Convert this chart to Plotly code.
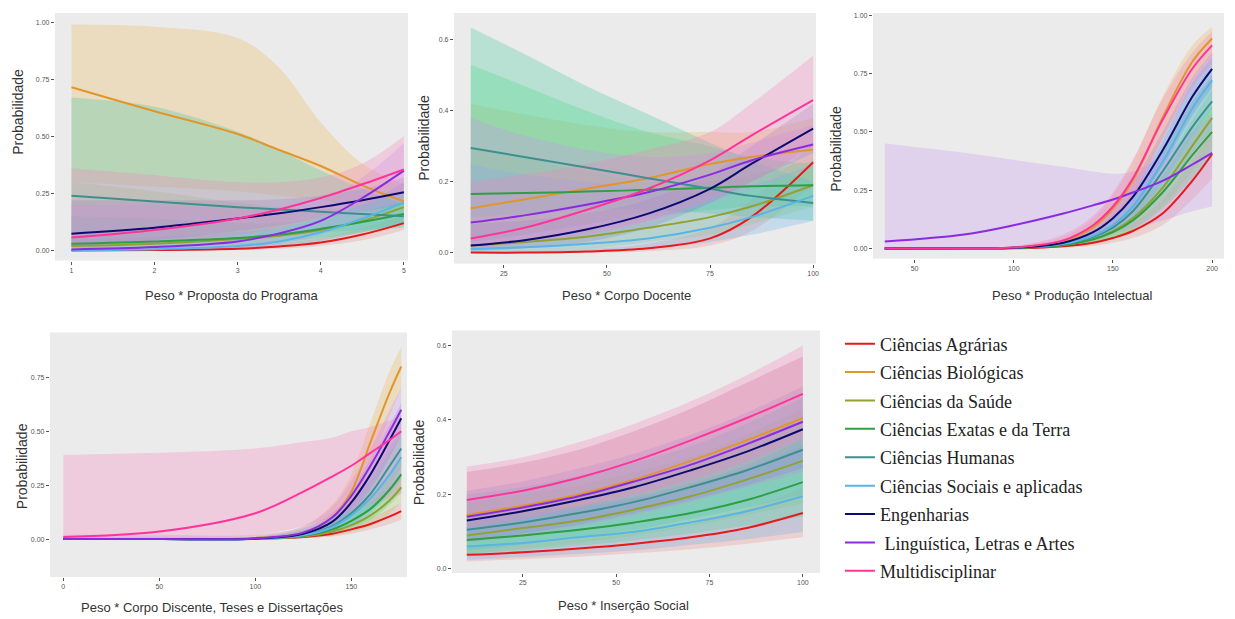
import plotly.graph_objects as go

CATEGORIES = ["Ciências Agrárias", "Ciências Biológicas", "Ciências da Saúde",
              "Ciências Exatas e da Terra", "Ciências Humanas", "Ciências Sociais e aplicadas",
              "Engenharias", " Linguística, Letras e Artes", "Multidisciplinar"]
LINE_COLORS = ["#e41a1c", "#e0962a", "#93a033", "#2f9e44", "#3f8f8f", "#5ab4e5",
               "#0b0b70", "#8a2be2", "#ff3399"]
FILL_COLORS = ["rgba(240,110,110,0.22)", "rgba(235,190,110,0.35)", "rgba(170,200,90,0.28)",
               "rgba(90,220,130,0.35)", "rgba(90,205,170,0.35)", "rgba(110,180,235,0.3)",
               "rgba(110,110,200,0.22)", "rgba(200,150,240,0.3)", "rgba(245,130,190,0.3)"]

# ---------- Panel 1: Proposta do Programa ----------
P1_X = [1, 2, 3, 3.5, 4, 4.5, 5]
P1_MEAN = {
    "Ciências Agrárias": [0.0, 0.002, 0.008, 0.018, 0.035, 0.07, 0.12],
    "Ciências Biológicas": [0.715, 0.61, 0.51, 0.44, 0.37, 0.285, 0.215],
    "Ciências da Saúde": [0.02, 0.03, 0.05, 0.065, 0.09, 0.13, 0.19],
    "Ciências Exatas e da Terra": [0.03, 0.04, 0.055, 0.07, 0.095, 0.125, 0.16],
    "Ciências Humanas": [0.24, 0.215, 0.19, 0.18, 0.17, 0.16, 0.15],
    "Ciências Sociais e aplicadas": [0.002, 0.006, 0.02, 0.04, 0.08, 0.14, 0.21],
    "Engenharias": [0.074, 0.1, 0.14, 0.163, 0.19, 0.22, 0.255],
    " Linguística, Letras e Artes": [0.005, 0.015, 0.04, 0.075, 0.13, 0.23, 0.35],
    "Multidisciplinar": [0.057, 0.09, 0.14, 0.18, 0.23, 0.29, 0.355],
}
P1_LO = {
    "Ciências Agrárias": [0, 0, 0.003, 0.008, 0.02, 0.045, 0.09],
    "Ciências Biológicas": [0.3, 0.28, 0.26, 0.24, 0.22, 0.18, 0.14],
    "Ciências da Saúde": [0.0, 0.005, 0.015, 0.025, 0.045, 0.08, 0.12],
    "Ciências Exatas e da Terra": [0.005, 0.01, 0.025, 0.035, 0.055, 0.08, 0.11],
    "Ciências Humanas": [0.02, 0.04, 0.06, 0.07, 0.08, 0.09, 0.1],
    "Ciências Sociais e aplicadas": [0, 0, 0.004, 0.015, 0.04, 0.08, 0.12],
    "Engenharias": [0.02, 0.045, 0.085, 0.11, 0.14, 0.17, 0.2],
    " Linguística, Letras e Artes": [0, 0, 0.01, 0.03, 0.07, 0.14, 0.22],
    "Multidisciplinar": [0.01, 0.03, 0.07, 0.1, 0.15, 0.2, 0.25],
}
P1_HI = {
    "Ciências Agrárias": [0.005, 0.008, 0.018, 0.032, 0.055, 0.1, 0.155],
    "Ciências Biológicas": [0.99, 0.98, 0.93, 0.8, 0.56, 0.38, 0.29],
    "Ciências da Saúde": [0.3, 0.26, 0.21, 0.19, 0.18, 0.2, 0.26],
    "Ciências Exatas e da Terra": [0.15, 0.14, 0.12, 0.12, 0.14, 0.17, 0.22],
    "Ciências Humanas": [0.67, 0.63, 0.52, 0.44, 0.35, 0.27, 0.2],
    "Ciências Sociais e aplicadas": [0.05, 0.06, 0.08, 0.1, 0.14, 0.2, 0.3],
    "Engenharias": [0.22, 0.22, 0.22, 0.225, 0.24, 0.27, 0.32],
    " Linguística, Letras e Artes": [0.2, 0.2, 0.18, 0.19, 0.22, 0.32, 0.47],
    "Multidisciplinar": [0.36, 0.33, 0.3, 0.3, 0.32, 0.38, 0.5],
}

# ---------- Panel 2: Corpo Docente ----------
P2_X = [17, 30, 45, 60, 75, 85, 100]
P2_MEAN = {
    "Ciências Agrárias": [0.0, 0.0, 0.003, 0.012, 0.04, 0.1, 0.255],
    "Ciências Biológicas": [0.125, 0.15, 0.18, 0.21, 0.25, 0.27, 0.29],
    "Ciências da Saúde": [0.02, 0.03, 0.045, 0.07, 0.1, 0.13, 0.19],
    "Ciências Exatas e da Terra": [0.165, 0.168, 0.172, 0.177, 0.183, 0.187, 0.19],
    "Ciências Humanas": [0.295, 0.27, 0.24, 0.21, 0.18, 0.16, 0.14],
    "Ciências Sociais e aplicadas": [0.01, 0.015, 0.025, 0.04, 0.07, 0.1, 0.16],
    "Engenharias": [0.02, 0.035, 0.065, 0.11, 0.18, 0.25, 0.35],
    " Linguística, Letras e Artes": [0.085, 0.105, 0.135, 0.17, 0.22, 0.26, 0.305],
    "Multidisciplinar": [0.04, 0.07, 0.12, 0.18, 0.26, 0.33, 0.43],
}
P2_LO = {
    "Ciências Agrárias": [0, 0, 0, 0.004, 0.02, 0.06, 0.19],
    "Ciências Biológicas": [0.03, 0.05, 0.08, 0.12, 0.16, 0.19, 0.2],
    "Ciências da Saúde": [0, 0.005, 0.01, 0.03, 0.05, 0.08, 0.13],
    "Ciências Exatas e da Terra": [0.03, 0.05, 0.08, 0.1, 0.12, 0.13, 0.13],
    "Ciências Humanas": [0.1, 0.11, 0.12, 0.12, 0.11, 0.1, 0.09],
    "Ciências Sociais e aplicadas": [0, 0, 0.005, 0.01, 0.03, 0.05, 0.09],
    "Engenharias": [0.005, 0.012, 0.03, 0.07, 0.14, 0.2, 0.28],
    " Linguística, Letras e Artes": [0.01, 0.03, 0.06, 0.09, 0.14, 0.18, 0.24],
    "Multidisciplinar": [0.01, 0.025, 0.05, 0.09, 0.15, 0.2, 0.3],
}
P2_HI = {
    "Ciências Agrárias": [0.004, 0.005, 0.01, 0.025, 0.07, 0.15, 0.31],
    "Ciências Biológicas": [0.42, 0.39, 0.36, 0.34, 0.34, 0.34, 0.38],
    "Ciências da Saúde": [0.3, 0.27, 0.23, 0.2, 0.2, 0.22, 0.26],
    "Ciências Exatas e da Terra": [0.53, 0.47, 0.4, 0.34, 0.3, 0.27, 0.25],
    "Ciências Humanas": [0.635, 0.56, 0.47, 0.39, 0.31, 0.26, 0.2],
    "Ciências Sociais e aplicadas": [0.25, 0.22, 0.2, 0.18, 0.17, 0.19, 0.25],
    "Engenharias": [0.08, 0.09, 0.11, 0.15, 0.22, 0.3, 0.42],
    " Linguística, Letras e Artes": [0.38, 0.33, 0.29, 0.27, 0.28, 0.31, 0.36],
    "Multidisciplinar": [0.2, 0.22, 0.25, 0.29, 0.34, 0.42, 0.555],
}

# ---------- Panel 3: Produção Intelectual ----------
P3_X = [35, 75, 100, 125, 140, 150, 160, 175, 190, 200]
P3_MEAN = {
    "Ciências Agrárias": [0, 0, 0.001, 0.01, 0.025, 0.045, 0.075, 0.15, 0.29, 0.405],
    "Ciências Biológicas": [0, 0.001, 0.004, 0.03, 0.09, 0.17, 0.29, 0.56, 0.8, 0.9],
    "Ciências da Saúde": [0, 0.001, 0.002, 0.015, 0.04, 0.075, 0.13, 0.26, 0.44, 0.56],
    "Ciências Exatas e da Terra": [0, 0.001, 0.002, 0.015, 0.04, 0.07, 0.12, 0.24, 0.4, 0.5],
    "Ciências Humanas": [0, 0.001, 0.003, 0.02, 0.05, 0.09, 0.16, 0.33, 0.52, 0.63],
    "Ciências Sociais e aplicadas": [0, 0.001, 0.003, 0.02, 0.055, 0.1, 0.18, 0.37, 0.6, 0.72],
    "Engenharias": [0, 0.001, 0.003, 0.025, 0.07, 0.13, 0.22, 0.42, 0.65, 0.77],
    " Linguística, Letras e Artes": [0.03, 0.06, 0.1, 0.15, 0.185, 0.21, 0.24, 0.29, 0.36, 0.41],
    "Multidisciplinar": [0, 0.001, 0.004, 0.035, 0.1, 0.18, 0.3, 0.55, 0.77, 0.87],
}
P3_LO = {
    "Ciências Agrárias": [0, 0, 0, 0.004, 0.012, 0.025, 0.045, 0.1, 0.21, 0.3],
    "Ciências Biológicas": [0, 0, 0.001, 0.015, 0.06, 0.12, 0.22, 0.47, 0.72, 0.83],
    "Ciências da Saúde": [0, 0, 0, 0.007, 0.02, 0.045, 0.085, 0.18, 0.33, 0.43],
    "Ciências Exatas e da Terra": [0, 0, 0, 0.007, 0.022, 0.045, 0.08, 0.17, 0.3, 0.39],
    "Ciências Humanas": [0, 0, 0.001, 0.01, 0.03, 0.06, 0.11, 0.24, 0.41, 0.51],
    "Ciências Sociais e aplicadas": [0, 0, 0.001, 0.01, 0.035, 0.07, 0.13, 0.28, 0.48, 0.6],
    "Engenharias": [0, 0, 0.001, 0.015, 0.05, 0.1, 0.17, 0.35, 0.57, 0.69],
    " Linguística, Letras e Artes": [0.002, 0.005, 0.01, 0.025, 0.045, 0.065, 0.085, 0.12, 0.16, 0.18],
    "Multidisciplinar": [0, 0, 0.001, 0.02, 0.07, 0.13, 0.23, 0.47, 0.69, 0.79],
}
P3_HI = {
    "Ciências Agrárias": [0.003, 0.003, 0.004, 0.018, 0.04, 0.07, 0.11, 0.21, 0.38, 0.5],
    "Ciências Biológicas": [0.005, 0.005, 0.01, 0.05, 0.13, 0.23, 0.37, 0.65, 0.87, 0.95],
    "Ciências da Saúde": [0.005, 0.005, 0.006, 0.027, 0.065, 0.11, 0.18, 0.34, 0.55, 0.68],
    "Ciências Exatas e da Terra": [0.005, 0.005, 0.006, 0.025, 0.06, 0.1, 0.16, 0.31, 0.5, 0.61],
    "Ciências Humanas": [0.005, 0.005, 0.008, 0.035, 0.075, 0.13, 0.22, 0.42, 0.63, 0.74],
    "Ciências Sociais e aplicadas": [0.005, 0.005, 0.008, 0.035, 0.08, 0.14, 0.24, 0.46, 0.71, 0.82],
    "Engenharias": [0.005, 0.005, 0.008, 0.04, 0.1, 0.17, 0.28, 0.5, 0.73, 0.84],
    " Linguística, Letras e Artes": [0.45, 0.41, 0.38, 0.35, 0.33, 0.32, 0.33, 0.4, 0.5, 0.58],
    "Multidisciplinar": [0.005, 0.005, 0.01, 0.06, 0.14, 0.24, 0.38, 0.64, 0.84, 0.93],
}

# ---------- Panel 4: Corpo Discente, Teses e Dissertações ----------
P4_X = [0, 50, 100, 125, 140, 150, 160, 170, 176]
P4_MEAN = {
    "Ciências Agrárias": [0, 0, 0.002, 0.01, 0.025, 0.045, 0.07, 0.105, 0.13],
    "Ciências Biológicas": [0, 0, 0.005, 0.03, 0.1, 0.22, 0.45, 0.68, 0.8],
    "Ciências da Saúde": [0, 0, 0.002, 0.012, 0.035, 0.065, 0.11, 0.18, 0.24],
    "Ciências Exatas e da Terra": [0, 0, 0.002, 0.015, 0.045, 0.085, 0.14, 0.23, 0.3],
    "Ciências Humanas": [0, 0, 0.002, 0.02, 0.06, 0.12, 0.21, 0.34, 0.42],
    "Ciências Sociais e aplicadas": [0, 0, 0.002, 0.018, 0.055, 0.11, 0.19, 0.3, 0.38],
    "Engenharias": [0, 0, 0.002, 0.025, 0.08, 0.17, 0.3, 0.46, 0.56],
    " Linguística, Letras e Artes": [0, 0, 0.003, 0.03, 0.1, 0.2, 0.34, 0.5, 0.6],
    "Multidisciplinar": [0.01, 0.035, 0.12, 0.22, 0.29, 0.34, 0.4, 0.46, 0.5],
}
P4_LO = {
    "Ciências Agrárias": [0, 0, 0, 0.004, 0.012, 0.025, 0.045, 0.07, 0.09],
    "Ciências Biológicas": [0, 0, 0.001, 0.01, 0.05, 0.14, 0.35, 0.57, 0.7],
    "Ciências da Saúde": [0, 0, 0, 0.004, 0.015, 0.035, 0.06, 0.12, 0.17],
    "Ciências Exatas e da Terra": [0, 0, 0, 0.005, 0.02, 0.05, 0.09, 0.16, 0.22],
    "Ciências Humanas": [0, 0, 0, 0.008, 0.03, 0.07, 0.14, 0.25, 0.33],
    "Ciências Sociais e aplicadas": [0, 0, 0, 0.006, 0.03, 0.06, 0.12, 0.21, 0.28],
    "Engenharias": [0, 0, 0, 0.01, 0.05, 0.12, 0.23, 0.38, 0.48],
    " Linguística, Letras e Artes": [0, 0, 0, 0.01, 0.06, 0.14, 0.26, 0.4, 0.49],
    "Multidisciplinar": [0, 0, 0.02, 0.06, 0.1, 0.13, 0.16, 0.19, 0.21],
}
P4_HI = {
    "Ciências Agrárias": [0.003, 0.003, 0.006, 0.02, 0.04, 0.07, 0.1, 0.14, 0.17],
    "Ciências Biológicas": [0.01, 0.01, 0.02, 0.06, 0.16, 0.3, 0.54, 0.78, 0.89],
    "Ciências da Saúde": [0.005, 0.005, 0.01, 0.03, 0.06, 0.11, 0.17, 0.25, 0.31],
    "Ciências Exatas e da Terra": [0.005, 0.005, 0.01, 0.03, 0.08, 0.13, 0.2, 0.3, 0.37],
    "Ciências Humanas": [0.005, 0.005, 0.01, 0.04, 0.1, 0.18, 0.29, 0.43, 0.5],
    "Ciências Sociais e aplicadas": [0.005, 0.005, 0.01, 0.04, 0.09, 0.17, 0.27, 0.4, 0.48],
    "Engenharias": [0.005, 0.005, 0.01, 0.05, 0.12, 0.22, 0.37, 0.53, 0.63],
    " Linguística, Letras e Artes": [0.02, 0.02, 0.02, 0.06, 0.15, 0.27, 0.42, 0.6, 0.7],
    "Multidisciplinar": [0.39, 0.4, 0.42, 0.45, 0.47, 0.5, 0.52, 0.55, 0.57],
}

# ---------- Panel 5: Inserção Social ----------
P5_X = [10, 25, 40, 55, 70, 85, 100]
P5_MEAN = {
    "Ciências Agrárias": [0.038, 0.045, 0.055, 0.068, 0.085, 0.11, 0.15],
    "Ciências Biológicas": [0.145, 0.17, 0.2, 0.24, 0.29, 0.345, 0.405],
    "Ciências da Saúde": [0.09, 0.11, 0.13, 0.16, 0.195, 0.24, 0.29],
    "Ciências Exatas e da Terra": [0.078, 0.09, 0.105, 0.125, 0.15, 0.185, 0.233],
    "Ciências Humanas": [0.105, 0.125, 0.15, 0.18, 0.22, 0.265, 0.32],
    "Ciências Sociais e aplicadas": [0.06, 0.07, 0.085, 0.1, 0.125, 0.155, 0.195],
    "Engenharias": [0.13, 0.155, 0.185, 0.22, 0.265, 0.315, 0.375],
    " Linguística, Letras e Artes": [0.14, 0.165, 0.195, 0.235, 0.28, 0.335, 0.395],
    "Multidisciplinar": [0.185, 0.21, 0.245, 0.29, 0.345, 0.405, 0.47],
}
P5_LO = {
    "Ciências Agrárias": [0.02, 0.026, 0.033, 0.042, 0.053, 0.068, 0.085],
    "Ciências Biológicas": [0.07, 0.09, 0.115, 0.145, 0.18, 0.22, 0.26],
    "Ciências da Saúde": [0.04, 0.055, 0.07, 0.09, 0.115, 0.145, 0.175],
    "Ciências Exatas e da Terra": [0.04, 0.05, 0.062, 0.077, 0.095, 0.117, 0.14],
    "Ciências Humanas": [0.05, 0.065, 0.085, 0.105, 0.135, 0.165, 0.2],
    "Ciências Sociais e aplicadas": [0.025, 0.032, 0.04, 0.05, 0.065, 0.08, 0.1],
    "Engenharias": [0.075, 0.095, 0.12, 0.15, 0.185, 0.225, 0.27],
    " Linguística, Letras e Artes": [0.07, 0.09, 0.115, 0.145, 0.18, 0.22, 0.26],
    "Multidisciplinar": [0.11, 0.135, 0.165, 0.2, 0.24, 0.29, 0.35],
}
P5_HI = {
    "Ciências Agrárias": [0.06, 0.068, 0.08, 0.097, 0.12, 0.16, 0.22],
    "Ciências Biológicas": [0.26, 0.285, 0.32, 0.37, 0.43, 0.5, 0.57],
    "Ciências da Saúde": [0.18, 0.2, 0.225, 0.26, 0.3, 0.36, 0.43],
    "Ciências Exatas e da Terra": [0.14, 0.155, 0.17, 0.195, 0.23, 0.28, 0.35],
    "Ciências Humanas": [0.2, 0.22, 0.25, 0.285, 0.33, 0.39, 0.46],
    "Ciências Sociais e aplicadas": [0.13, 0.145, 0.165, 0.19, 0.22, 0.27, 0.33],
    "Engenharias": [0.21, 0.235, 0.27, 0.31, 0.36, 0.42, 0.49],
    " Linguística, Letras e Artes": [0.26, 0.285, 0.32, 0.37, 0.43, 0.5, 0.57],
    "Multidisciplinar": [0.275, 0.3, 0.34, 0.39, 0.45, 0.52, 0.6],
}

X_TITLES = ["Peso * Proposta do Programa", "Peso * Corpo Docente", "Peso * Produção Intelectual",
            "Peso * Corpo Discente, Teses e Dissertações", "Peso * Inserção Social"]
Y_TITLE = "Probabilidade"

P1_XTICKS = [1, 2, 3, 4, 5]
P1_YTICKS = [0.0, 0.25, 0.5, 0.75, 1.0]
P1_YTEXT = ["0.00", "0.25", "0.50", "0.75", "1.00"]
P2_XTICKS = [25, 50, 75, 100]
P2_YTICKS = [0.0, 0.2, 0.4, 0.6]
P2_YTEXT = ["0.0", "0.2", "0.4", "0.6"]
P3_XTICKS = [50, 100, 150, 200]
P3_YTICKS = [0.0, 0.25, 0.5, 0.75, 1.0]
P3_YTEXT = ["0.00", "0.25", "0.50", "0.75", "1.00"]
P4_XTICKS = [0, 50, 100, 150]
P4_YTICKS = [0.0, 0.25, 0.5, 0.75]
P4_YTEXT = ["0.00", "0.25", "0.50", "0.75"]
P5_XTICKS = [25, 50, 75, 100]
P5_YTICKS = [0.0, 0.2, 0.4, 0.6]
P5_YTEXT = ["0.0", "0.2", "0.4", "0.6"]

W, H = 1235, 619

# layout geometry (pixels): left, right, top, bottom of plotting area
PANEL_BOX = [(55, 409, 12, 260), (455, 818, 12, 263), (875, 1227, 12, 258),
             (50, 408, 332, 577), (453, 822, 330, 573)]
X_RANGES = [[0.8, 5.05], [12.9, 100.7], [29, 206], [-7, 179], [6, 104.6]]
Y_RANGES = [[-0.044, 1.04], [-0.031, 0.676], [-0.043, 1.009], [-0.176, 0.958], [-0.011, 0.64]]
XT_POS = [(232, 295), (628, 295), (1075, 295), (213, 607), (625, 605)]
YT_POS = [(18, 111), (425, 137), (838, 148), (22, 466), (420, 462)]

panels = [
    (P1_X, P1_MEAN, P1_LO, P1_HI, P1_XTICKS, P1_YTICKS, P1_YTEXT),
    (P2_X, P2_MEAN, P2_LO, P2_HI, P2_XTICKS, P2_YTICKS, P2_YTEXT),
    (P3_X, P3_MEAN, P3_LO, P3_HI, P3_XTICKS, P3_YTICKS, P3_YTEXT),
    (P4_X, P4_MEAN, P4_LO, P4_HI, P4_XTICKS, P4_YTICKS, P4_YTEXT),
    (P5_X, P5_MEAN, P5_LO, P5_HI, P5_XTICKS, P5_YTICKS, P5_YTEXT),
]

fig = go.Figure()
layout = dict(width=W, height=H, margin=dict(l=0, r=0, t=0, b=0),
              paper_bgcolor="white", plot_bgcolor="#ebebeb",
              font=dict(family="Liberation Sans, Arial, sans-serif", color="#333"))
annotations = []

for i, (xs, mean, lo, hi, xt, yt, ytxt) in enumerate(panels):
    n = "" if i == 0 else str(i + 1)
    xa, ya = "x" + n, "y" + n
    # ribbons
    for k, cat in enumerate(CATEGORIES):
        fig.add_trace(go.Scatter(x=xs, y=lo[cat], xaxis=xa, yaxis=ya, mode="lines",
                                 line=dict(width=0, shape="spline", color=LINE_COLORS[k]),
                                 showlegend=False, hoverinfo="skip"))
        fig.add_trace(go.Scatter(x=xs, y=hi[cat], xaxis=xa, yaxis=ya, mode="lines",
                                 line=dict(width=0, shape="spline", color=LINE_COLORS[k]),
                                 fill="tonexty", fillcolor=FILL_COLORS[k],
                                 showlegend=False, hoverinfo="skip"))
    # lines
    for k, cat in enumerate(CATEGORIES):
        fig.add_trace(go.Scatter(x=xs, y=mean[cat], xaxis=xa, yaxis=ya, mode="lines",
                                 line=dict(width=2, shape="spline", color=LINE_COLORS[k]),
                                 name=cat, legendgroup=cat, showlegend=(i == 0)))
    l, r, t, b = PANEL_BOX[i]
    axis_common = dict(showgrid=False, zeroline=False, showline=False, ticks="outside",
                       ticklen=3, tickwidth=1, tickcolor="#555",
                       tickfont=dict(size=7, color="#555"))
    layout["xaxis" + n] = dict(domain=[l / W, r / W], range=X_RANGES[i], anchor=ya,
                               tickvals=xt, ticktext=[str(v) for v in xt], **axis_common)
    layout["yaxis" + n] = dict(domain=[1 - b / H, 1 - t / H], range=Y_RANGES[i], anchor=xa,
                               tickvals=yt, ticktext=ytxt, **axis_common)
    annotations.append(dict(text=X_TITLES[i], x=XT_POS[i][0] / W, y=1 - XT_POS[i][1] / H,
                            xref="paper", yref="paper", showarrow=False,
                            xanchor="center", yanchor="middle",
                            font=dict(size=13, color="#333",
                                      family="Liberation Sans Narrow, Liberation Sans, Arial")))
    annotations.append(dict(text=Y_TITLE, x=YT_POS[i][0] / W, y=1 - YT_POS[i][1] / H,
                            xref="paper", yref="paper", showarrow=False, textangle=-90,
                            xanchor="center", yanchor="middle",
                            font=dict(size=14, color="#333",
                                      family="Liberation Sans, Arial")))

layout["annotations"] = annotations
layout["legend"] = dict(x=842 / W, y=1 - 325 / H, xanchor="left", yanchor="top",
                        bgcolor="rgba(0,0,0,0)", itemwidth=30, tracegroupgap=2,
                        traceorder="grouped",
                        font=dict(family="Liberation Serif, Times New Roman, serif",
                                  size=18, color="#222"))
fig.update_layout(**layout)
fig.write_html("out.html", config={"displayModeBar": False},
               post_script="document.body.style.margin='0';document.body.style.padding='0';")
